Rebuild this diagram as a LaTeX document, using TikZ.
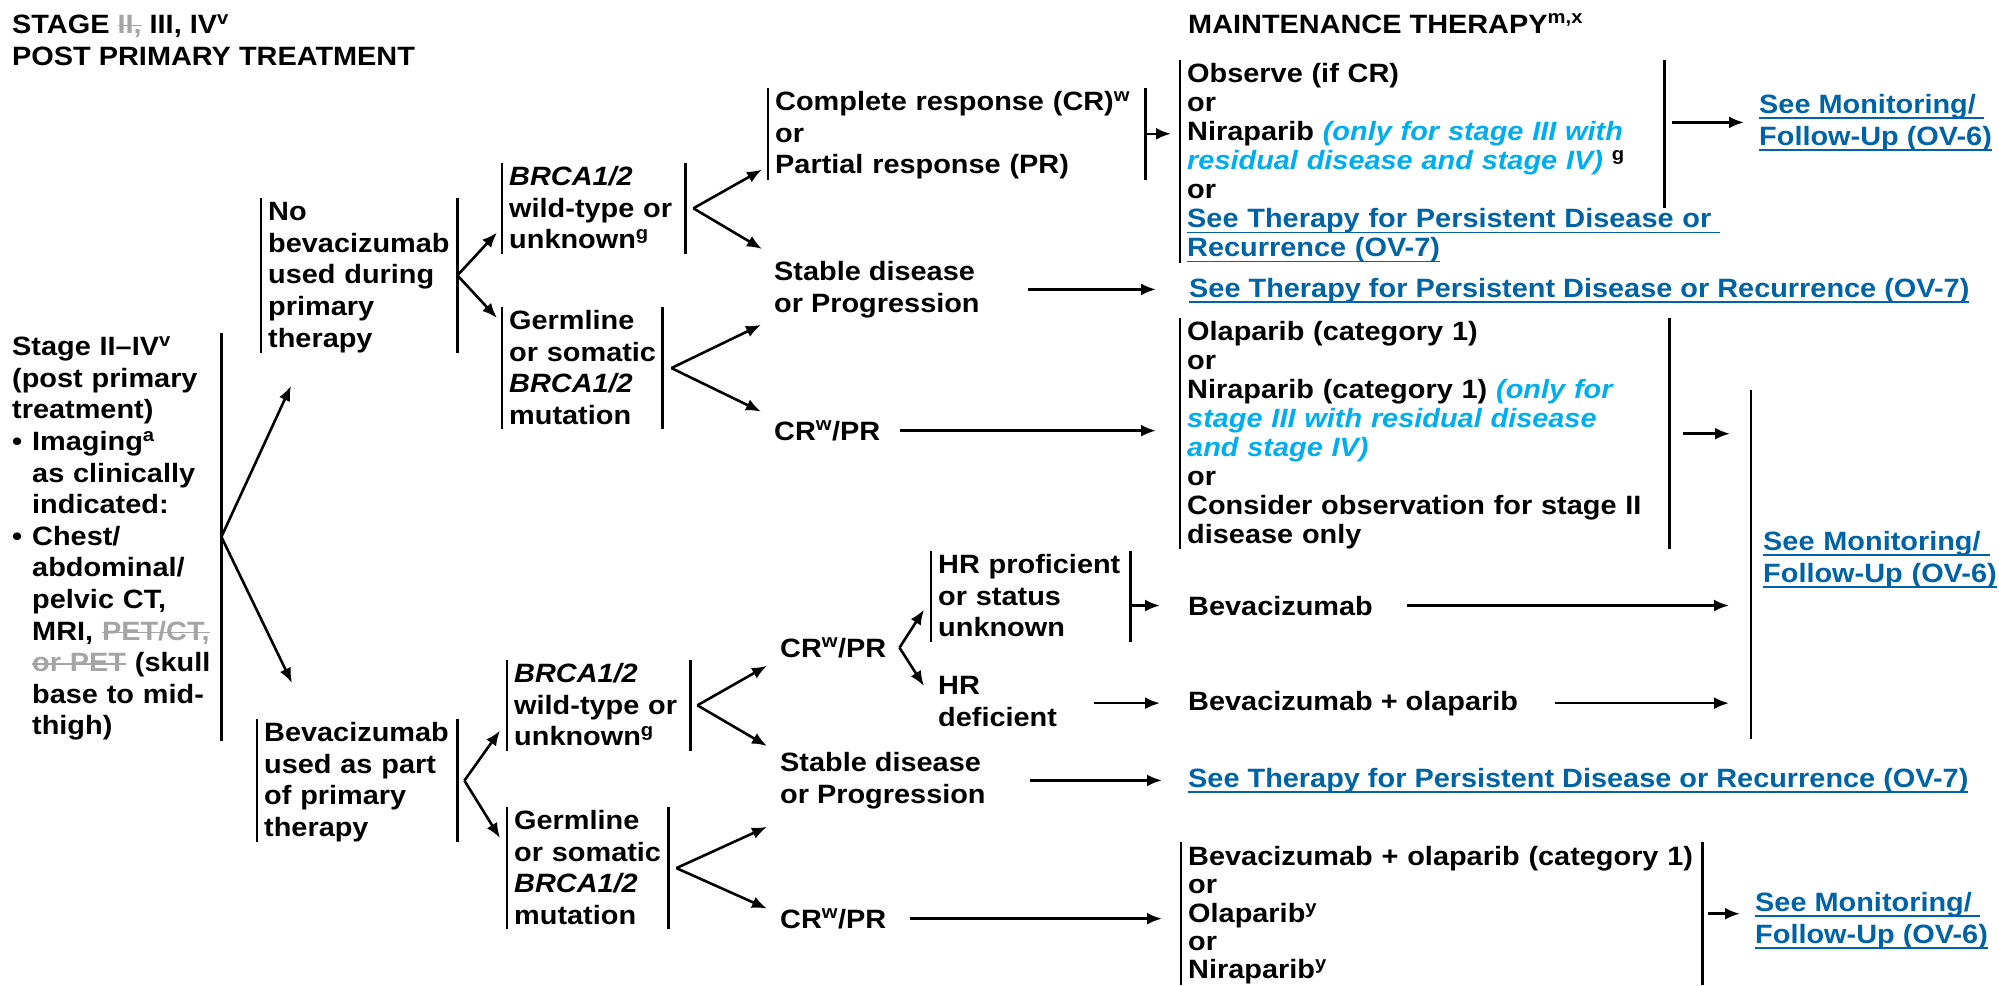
\documentclass[tikz,border=0pt]{standalone}
\usepackage{fontspec}
\setmainfont{Liberation Sans}[FakeStretch=1.09]
\usetikzlibrary{arrows.meta}

\definecolor{linkblue}{RGB}{0,99,166}
\definecolor{cyanit}{RGB}{0,174,239}
\definecolor{strikegray}{RGB}{165,165,165}

\newsavebox\markbox
\newcommand\nodefont{\bfseries\fontsize{26.5}{31.6}\selectfont}
\newcommand\maintfont{\bfseries\fontsize{26.5}{29}\selectfont}
\newcommand\seelink[1]{\textcolor{linkblue}{\sbox\markbox{#1}\rlap{\rule[-5.6pt]{\wd\markbox}{1.8pt}}\usebox\markbox}}
\newcommand\cyi[1]{\textcolor{cyanit}{\itshape #1}}
\newcommand\strk[1]{\textcolor{strikegray}{\sbox\markbox{#1}\rlap{\rule[7pt]{\wd\markbox}{1.6pt}}\usebox\markbox}}
\newcommand\bullitem{\makebox[20pt][l]{•}}
\newcommand\indt{\hspace*{20pt}}
\newcommand\bars[1]{\draw[bar] (#1.north west) -- (#1.south west) (#1.north east) -- (#1.south east);}

\begin{document}
\begin{tikzpicture}[x=1pt,y=-1pt,
  every node/.style={inner sep=0pt,font=\nodefont},
  lbl/.style={anchor=base west,align=left},
  box/.style 2 args={anchor=north west,inner xsep=7pt,text width=#1,minimum height=#2,
    execute at begin node={\rightskip=-120pt plus 1fil\relax\rule{0pt}{22.5pt}},
    execute at end node={\rule[-4.5pt]{0pt}{0pt}}},
  bar/.style={line width=2.2pt},
  arr/.style={line width=2.6pt,-{Latex[length=15pt,width=12pt]}}]

	\useasboundingbox (0,0) rectangle (1999,985);

	% headings (base = last line)
	\node[lbl] (hdrL) at (12,65) {STAGE \strk{II,} III, IV\textsuperscript{v}\\POST PRIMARY TREATMENT};
	\node[lbl] (hdrR) at (1188,33) {MAINTENANCE THERAPY\textsuperscript{m,x}};

	\node[box={202pt}{404pt}] (stage) at (5,333) {Stage II–IV\textsuperscript{v}\\(post primary\\treatment)\\
		\bullitem Imaging\textsuperscript{a}\\\indt as clinically\\\indt indicated:\\
		\bullitem Chest/\\\indt abdominal/\\\indt pelvic CT,\\\indt MRI, \strk{PET/CT,}\\
		\indt \strk{or PET} (skull\\\indt base to mid-\\\indt thigh)};
	\draw[bar] (stage.north east) -- (stage.south east);

	\node[box={182pt}{154pt}] (nobev) at (261,198) {No\\bevacizumab\\used during\\primary\\therapy};
	\node[box={186pt}{122pt}] (bevpart) at (257,719) {Bevacizumab\\used as part\\of primary\\therapy};
	\bars{nobev}
	\bars{bevpart}

	\node[box={169pt}{90pt}] (wtA) at (502,163) {\textit{BRCA1/2}\\wild-type or\\unknown\textsuperscript{g}};
	\node[box={146pt}{121pt}] (mutA) at (502,307) {Germline\\or somatic\\\textit{BRCA1/2}\\mutation};
	\node[box={169pt}{88pt}] (wtB) at (507,660) {\textit{BRCA1/2}\\wild-type or\\unknown\textsuperscript{g}};
	\node[box={147pt}{121pt}] (mutB) at (507,807) {Germline\\or somatic\\\textit{BRCA1/2}\\mutation};
	\bars{wtA}
	\bars{mutA}
	\bars{wtB}
	\bars{mutB}

	\node[box={363pt}{90pt}] (crpr) at (768,88) {Complete response (CR)\textsuperscript{w}\\or\\Partial response (PR)};
	\bars{crpr}
	\node[lbl] (sdA) at (774,312) {Stable disease\\or Progression};
	\node[lbl] (crA) at (774,440) {CR\textsuperscript{w}/PR};

	\node[lbl] (crB) at (780,657) {CR\textsuperscript{w}/PR};
	\node[box={185pt}{89pt}] (hrp) at (931,551) {HR proficient\\or status\\unknown};
	\bars{hrp}
	\node[lbl] (hrd) at (938,726) {HR\\deficient};
	\node[lbl] (sdB) at (780,803) {Stable disease\\or Progression};
	\node[lbl] (crC) at (780,928) {CR\textsuperscript{w}/PR};

	% maintenance column
	\node[box={470pt}{200pt},font=\maintfont] (obs) at (1180,60) {Observe (if CR)\\or\\
		Niraparib \cyi{(only for stage III with}\\\cyi{residual disease and stage IV)} \textsuperscript{g}\\or\\
		\seelink{See Therapy for Persistent Disease or }\\\seelink{Recurrence (OV-7)}};
	\draw[bar] (obs.north west) -- (obs.south west);
	\draw[bar] (obs.north east) -- ([yshift=-148pt]obs.north east);
	\node[lbl] (seeA) at (1189,297) {\seelink{See Therapy for Persistent Disease or Recurrence (OV-7)}};
	\node[box={475pt}{231pt},font=\maintfont] (ola) at (1180,318) {Olaparib (category 1)\\or\\
		Niraparib (category 1) \cyi{(only for}\\\cyi{stage III with residual disease}\\\cyi{and stage IV)}\\or\\
		Consider observation for stage II\\disease only};
	\bars{ola}
	\node[lbl] (bev1) at (1188,615) {Bevacizumab};
	\node[lbl] (bev2) at (1188,710) {Bevacizumab + olaparib};
	\node[lbl] (seeB) at (1188,787) {\seelink{See Therapy for Persistent Disease or Recurrence (OV-7)}};
	\node[box={507pt}{143pt},font=\bfseries\fontsize{26.5}{28.3}\selectfont] (bot) at (1181,842) {Bevacizumab + olaparib (category 1)\\or\\Olaparib\textsuperscript{y}\\or\\Niraparib\textsuperscript{y}};
	\bars{bot}

	\node[lbl] (mon1) at (1759,145) {\seelink{See Monitoring/ }\\\seelink{Follow-Up (OV-6)}};
	\node[box={230pt}{349pt},inner xsep=12pt] (mon2) at (1751,390) {\seelink{See Monitoring/ }\\\seelink{Follow-Up (OV-6)}\rule[-19.5pt]{0pt}{0pt}};
	\draw[bar] (mon2.north west) -- (mon2.south west);
	\node[lbl] (mon3) at (1755,943) {\seelink{See Monitoring/ }\\\seelink{Follow-Up (OV-6)}};

	% arrows
	\draw[arr] (stage.east) -- ([xshift=30pt,yshift=-33pt]nobev.south west);
	\draw[arr] (stage.east) -- ([xshift=35pt,yshift=36pt]bevpart.north west);
	\draw[arr] (nobev.east) -- ([xshift=-5pt,yshift=21pt]wtA.south west);
	\draw[arr] (nobev.east) -- ([xshift=-5pt,yshift=-11pt]mutA.north west);
	\draw[arr] ([xshift=7pt]bevpart.east) -- ([xshift=-7pt,yshift=20pt]wtB.south west);
	\draw[arr] ([xshift=7pt]bevpart.east) -- ([xshift=-7pt,yshift=-31pt]mutB.north west);

	\draw[arr] ([xshift=8pt]wtA.east) -- ([xshift=-6pt,yshift=10pt]crpr.south west);
	\draw[arr] ([xshift=8pt]wtA.east) -- ([xshift=-12pt,yshift=12pt]sdA.north west);
	\draw[arr] ([xshift=9pt]mutA.east) -- ([xshift=-13pt,yshift=-7pt]sdA.south west);
	\draw[arr] ([xshift=9pt]mutA.east) -- ([xshift=-13pt,yshift=9pt]crA.north west);
	\draw[arr] ([xshift=7pt]wtB.east) -- ([xshift=-13pt,yshift=-8pt]crB.south west);
	\draw[arr] ([xshift=7pt]wtB.east) -- ([xshift=-13pt,yshift=6pt]sdB.north west);
	\draw[arr] ([xshift=8pt]mutB.east) -- ([xshift=-13pt,yshift=-18pt]sdB.south west);
	\draw[arr] ([xshift=8pt]mutB.east) -- ([xshift=-13pt]crC.north west);
	\draw[arr] ([xshift=13pt]crB.east) -- ([xshift=-7pt,yshift=32pt]hrp.south west);
	\draw[arr] ([xshift=13pt]crB.east) -- ([xshift=-14pt,yshift=-10pt]hrd.north west);

	\draw[arr,shorten >=9pt] (crpr.east) -- (crpr.east -| obs.west);
	\draw[arr,shorten <=48pt,shorten >=33pt] (sdA.east) -- (sdA.east -| seeA.west);
	\draw[arr,shorten <=19pt,shorten >=24pt] (crA.east) -- (crA.east -| ola.west);
	\draw[arr,shorten >=28pt] (hrp.east |- bev1.west) -- (bev1.west);
	\draw[arr,shorten <=37pt,shorten >=28pt] (hrd.east |- bev2.west) -- (bev2.west);
	\draw[arr,shorten <=44pt,shorten >=26pt] (sdB.east) -- (sdB.east -| seeB.west);
	\draw[arr,shorten <=23pt,shorten >=19pt] (crC.east) -- (crC.east -| bot.west);

	\draw[arr,shorten <=8pt,shorten >=15pt] (obs.east |- mon1.west) -- (mon1.west);
	\draw[arr,shorten <=14pt,shorten >=21pt] (ola.east) -- (ola.east -| mon2.west);
	\draw[arr,shorten <=34pt,shorten >=22pt] (bev1.east) -- (bev1.east -| mon2.west);
	\draw[arr,shorten <=37pt,shorten >=22pt] (bev2.east) -- (bev2.east -| mon2.west);
	\draw[arr,shorten <=6pt,shorten >=15pt] (bot.east) -- (bot.east -| mon3.west);

\end{tikzpicture}
\end{document}
